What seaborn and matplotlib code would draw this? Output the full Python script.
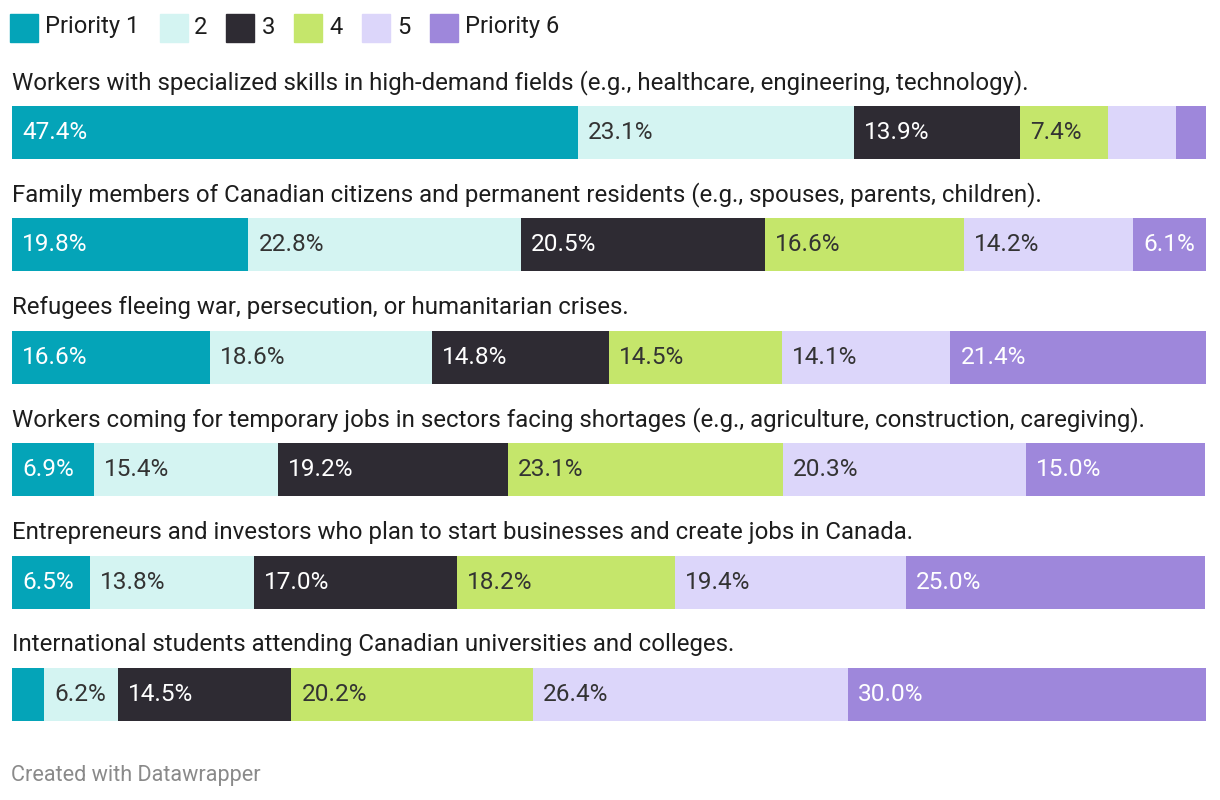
import numpy as np
import pandas as pd
import matplotlib
matplotlib.use("Agg")
import matplotlib.pyplot as plt
import seaborn as sns
from matplotlib.patches import Rectangle

categories = [
    "Workers with specialized skills in high-demand fields (e.g., healthcare, engineering, technology).",
    "Family members of Canadian citizens and permanent residents (e.g., spouses, parents, children).",
    "Refugees fleeing war, persecution, or humanitarian crises.",
    "Workers coming for temporary jobs in sectors facing shortages (e.g., agriculture, construction, caregiving).",
    "Entrepreneurs and investors who plan to start businesses and create jobs in Canada.",
    "International students attending Canadian universities and colleges.",
]
series_names = ["Priority 1", "2", "3", "4", "5", "Priority 6"]
priority1 = [47.4, 19.8, 16.6, 6.9, 6.5, 2.7]
priority2 = [23.1, 22.8, 18.6, 15.4, 13.8, 6.2]
priority3 = [13.9, 20.5, 14.8, 19.2, 17.0, 14.5]
priority4 = [7.4, 16.6, 14.5, 23.1, 18.2, 20.2]
priority5 = [5.7, 14.2, 14.1, 20.3, 19.4, 26.4]
priority6 = [2.5, 6.1, 21.4, 15.0, 25.0, 30.0]

colors = ["#04a4b8", "#d4f4f2", "#2e2b33", "#c5e66b", "#dcd6fa", "#9e87db"]
text_colors = ["white", "#333333", "white", "#333333", "#333333", "white"]

series = [priority1, priority2, priority3, priority4, priority5, priority6]
vals = np.array(series)  # shape (6 series, 6 categories)
cum = np.cumsum(vals, axis=0)

sns.set_theme(style="white")
plt.rcParams["font.family"] = ["Roboto", "DejaVu Sans"]

W, H = 1220, 800
fig = plt.figure(figsize=(W / 100, H / 100), dpi=100)
fig.patch.set_facecolor("white")

# axes placement in pixels
x0_px, x1_px = 12, 1206
row0_c, row5_c = 132.5, 694.5
unit = (row5_c - row0_c) / 5.0
ylo, yhi = -1.0, 5.6
top_px = row0_c + ylo * unit
bot_px = row0_c + yhi * unit
ax = fig.add_axes([x0_px / W, 1 - bot_px / H, (x1_px - x0_px) / W, (bot_px - top_px) / H])

for k in range(5, -1, -1):
    d = pd.DataFrame({"cat": categories, "val": cum[k]})
    sns.barplot(data=d, x="val", y="cat", orient="h", color=colors[k],
                saturation=1, width=53 / unit, linewidth=0, ax=ax, order=categories)

ax.set_xlim(0, 100)
ax.set_ylim(yhi, ylo)
ax.set_axis_off()

# value labels
pad = 10 / ((x1_px - x0_px) / 100)
for k in range(6):
    for i in range(len(categories)):
        v = vals[k, i]
        if v < 6:
            continue
        left = cum[k, i] - v
        ax.text(left + pad, i, f"{v:.1f}%", ha="left", va="center",
                fontsize=17.6, color=text_colors[k])

# category titles
for i, c in enumerate(categories):
    ax.text(0, i - 43 / unit, c, ha="left", va="baseline", fontsize=17.3, color="#1d1d1d")

# legend (figure pixels)
leg_items = [(10, 45), (160, 194), (226, 262), (294, 329), (362, 397), (430, 465)]
for (sx, tx), name, col in zip(leg_items, series_names, colors):
    fig.patches.append(Rectangle((sx / W, 1 - 42 / H), 28 / W, 28 / H,
                                 transform=fig.transFigure, color=col, zorder=3))
    fig.text(tx / W, 1 - 27 / H, name, ha="left", va="center", fontsize=17.1, color="#1d1d1d")

fig.text(11 / W, 1 - 776 / H, "Created with Datawrapper", ha="left", va="center",
         fontsize=15.6, color="#8a8a8a")

fig.savefig("out.png", dpi=100, facecolor="white")
